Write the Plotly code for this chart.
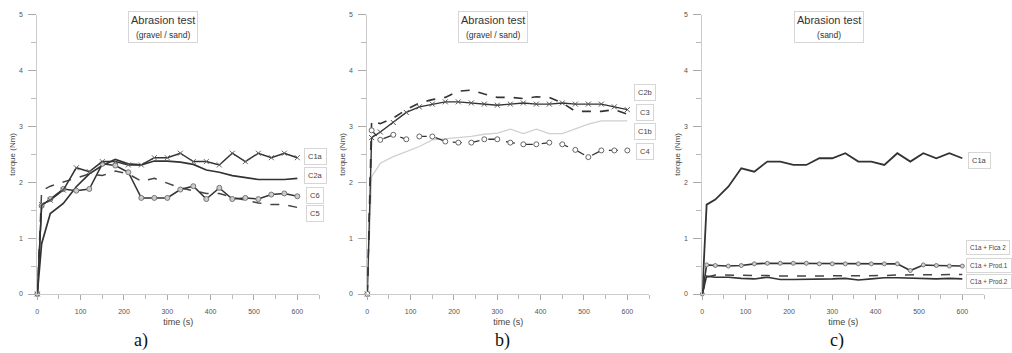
import plotly.graph_objects as go

W, H = 1012, 353

# ---------------- data ----------------
time_s = [0, 10, 30, 60, 90, 120, 150, 180, 210, 240, 270, 300, 330, 360, 390, 420, 450, 480, 510, 540, 570, 600]

# panel a (gravel / sand)
c1a = [0, 1.6, 1.68, 1.86, 2.26, 2.19, 2.37, 2.37, 2.31, 2.31, 2.44, 2.44, 2.52, 2.37, 2.37, 2.31, 2.52, 2.37, 2.52, 2.44, 2.52, 2.44]
c2a = [0, 0.9, 1.44, 1.62, 1.92, 2.15, 2.3, 2.41, 2.33, 2.31, 2.38, 2.38, 2.36, 2.32, 2.22, 2.18, 2.12, 2.09, 2.05, 2.05, 2.05, 2.07]
c6 = [0, 1.58, 1.7, 1.88, 1.85, 1.88, 2.33, 2.3, 2.18, 1.72, 1.72, 1.72, 1.87, 1.93, 1.7, 1.9, 1.7, 1.72, 1.7, 1.78, 1.8, 1.75]
c5 = [0, 1.85, 1.93, 2.0, 2.07, 2.15, 2.12, 2.2, 2.15, 2.02, 2.07, 1.98, 1.9, 1.85, 1.8, 1.8, 1.73, 1.68, 1.63, 1.6, 1.6, 1.55]

# panel b (gravel / sand)
c2b = [0, 3.1, 3.05, 3.15, 3.3, 3.42, 3.48, 3.52, 3.63, 3.65, 3.58, 3.52, 3.52, 3.5, 3.53, 3.52, 3.42, 3.27, 3.27, 3.27, 3.3, 3.22]
c3 = [0, 2.8, 2.9, 3.07, 3.25, 3.35, 3.4, 3.44, 3.44, 3.42, 3.4, 3.38, 3.4, 3.42, 3.4, 3.4, 3.42, 3.4, 3.4, 3.4, 3.35, 3.3]
c1b = [0, 2.1, 2.34, 2.46, 2.55, 2.64, 2.76, 2.78, 2.8, 2.82, 2.86, 2.88, 2.95, 2.87, 2.95, 2.87, 2.87, 2.96, 3.04, 3.1, 3.1, 3.1]
c4 = [0, 2.93, 2.76, 2.85, 2.77, 2.82, 2.82, 2.73, 2.71, 2.71, 2.77, 2.77, 2.71, 2.68, 2.68, 2.71, 2.68, 2.58, 2.45, 2.57, 2.57, 2.57]

# panel c (sand)
c1a_sand = [0, 1.6, 1.69, 1.92, 2.25, 2.19, 2.37, 2.37, 2.31, 2.31, 2.43, 2.43, 2.52, 2.37, 2.37, 2.31, 2.52, 2.37, 2.52, 2.43, 2.52, 2.43]
c1a_prod1 = [0, 0.52, 0.51, 0.5, 0.51, 0.54, 0.55, 0.55, 0.55, 0.55, 0.54, 0.54, 0.54, 0.54, 0.54, 0.54, 0.54, 0.42, 0.52, 0.51, 0.5, 0.5]
c1a_fica = [0, 0.3, 0.34, 0.34, 0.33, 0.33, 0.33, 0.32, 0.32, 0.32, 0.33, 0.33, 0.33, 0.33, 0.33, 0.33, 0.34, 0.34, 0.34, 0.35, 0.35, 0.35]
c1a_prod2 = [0, 0.32, 0.3, 0.3, 0.28, 0.27, 0.3, 0.26, 0.26, 0.26, 0.27, 0.27, 0.28, 0.25, 0.27, 0.29, 0.29, 0.28, 0.28, 0.27, 0.28, 0.27]

titles = ["Abrasion test<br><span style='font-size:8.5px'>(gravel / sand)</span>",
          "Abrasion test<br><span style='font-size:8.5px'>(gravel / sand)</span>",
          "Abrasion test<br><span style='font-size:8.5px'>(sand)</span>"]
captions = ["a)", "b)", "c)"]
labels_a = ["C1a", "C2a", "C6", "C5"]
labels_b = ["C2b", "C3", "C1b", "C4"]
labels_c = ["C1a", "C1a + Fica 2", "C1a + Prod.1", "C1a + Prod.2"]

# ---------------- layout helpers ----------------
FONT = "Liberation Sans, Arial, sans-serif"
DARK = "#333333"
AX = "#cccccc"

def px(x):
    return x / W

def py(y):
    return 1 - y / H

x_domains = [(37.3, 319.0), (367.3, 649.0), (702.3, 984.0)]
y_dom = [py(294.0), py(14.7)]

fig = go.Figure()

def add(series, ax, dash="solid", color=DARK, width=1.6, symbol=None, msize=5, mfill="#bdbdbd", mline="#555"):
    mode = "lines+markers" if symbol else "lines"
    marker = dict(symbol=symbol, size=msize, color=mfill,
                  line=dict(color=mline, width=1)) if symbol else None
    fig.add_trace(go.Scatter(x=time_s, y=series, mode=mode,
                             line=dict(color=color, width=width, dash=dash),
                             marker=marker, xaxis="x" + ax, yaxis="y" + ax,
                             cliponaxis=False, showlegend=False))

# panel a
add(c5, "", dash="dash", width=1.5, color="#444")
add(c2a, "", width=1.7)
add(c6, "", width=1.5, symbol="circle", msize=5, mfill="#cccccc", mline="#777")
add(c1a, "", width=1.5, symbol="x-thin", msize=5, mline="#666")
# panel b
add(c1b, "2", color="#d0d0d0", width=1.3)
add(c2b, "2", dash="dash", width=1.6)
add(c3, "2", width=1.4, symbol="x-thin", msize=5, mline="#555")
add(c4, "2", dash="dash", width=1.3, symbol="circle", msize=5, mfill="#ffffff", mline="#666")
# panel c
add(c1a_sand, "3", width=1.8)
add(c1a_prod1, "3", width=1.6, symbol="circle", msize=4, mfill="#d0d0d0", mline="#777")
add(c1a_fica, "3", dash="dash", width=1.5, color="#444")
add(c1a_prod2, "3", width=1.6)

axis_common_x = dict(range=[0, 650], tickvals=[0, 100, 200, 300, 400, 500, 600],
                     ticks="outside", ticklen=5, tickcolor="#aaaaaa", tickwidth=1,
                     minor=dict(dtick=50, tick0=0, ticks="outside", ticklen=4, tickcolor="#bbbbbb"),
                     showline=True, linecolor=AX, linewidth=1, showgrid=False, zeroline=False,
                     tickfont=dict(size=7, color="#555", family=FONT),
                     ticklabelstandoff=6, automargin=False,
                     title=dict(text="time (s)", font=dict(size=9, color="#444", family=FONT), standoff=4),
                     fixedrange=True)
axis_common_y = dict(range=[0, 5], dtick=1, ticks="outside", ticklen=8, tickcolor="#aaaaaa",
                     minor=dict(dtick=0.5, ticks="outside", ticklen=5, tickcolor="#bbbbbb"),
                     showline=True, linecolor=AX, linewidth=1, showgrid=False, zeroline=False,
                     tickfont=dict(size=7, color="#555", family=FONT),
                     ticklabelstandoff=4, automargin=False,
                     title=dict(text="torque (Nm)", font=dict(size=8, color="#444", family=FONT), standoff=2),
                     domain=y_dom, fixedrange=True)

layout = dict(width=W, height=H, margin=dict(l=0, r=0, t=0, b=0, pad=0, autoexpand=False),
              paper_bgcolor="white", plot_bgcolor="white", showlegend=False,
              font=dict(family=FONT))
for i, (d0, d1) in enumerate(x_domains):
    sfx = "" if i == 0 else str(i + 1)
    xa = dict(axis_common_x)
    xa["domain"] = [px(d0), px(d1)]
    xa["anchor"] = "y" + sfx
    ya = dict(axis_common_y)
    ya["anchor"] = "x" + sfx
    layout["xaxis" + sfx] = xa
    layout["yaxis" + sfx] = ya
fig.update_layout(**layout)

annotations = []
# title boxes
for cx, t in zip([162.5, 492.5, 828.5], titles):
    annotations.append(dict(x=px(cx), y=py(26.5), xref="paper", yref="paper", text=t,
                            showarrow=False, font=dict(size=11, color="#333", family=FONT),
                            bordercolor="#d6d6d6", borderwidth=1, borderpad=2, bgcolor="white",
                            xanchor="center", yanchor="middle", align="center"))
# captions
for cx, c in zip([141, 502, 837], captions):
    annotations.append(dict(x=px(cx), y=py(340), xref="paper", yref="paper", text=c,
                            showarrow=False, font=dict(size=18, color="#111",
                                                       family="Liberation Serif, Times New Roman, serif"),
                            xanchor="center", yanchor="middle"))

def label(cx, cy, text, anchor="center", size=7.5, pad=3):
    annotations.append(dict(x=px(cx), y=py(cy), xref="paper", yref="paper", text=text,
                            showarrow=False, font=dict(size=size, color="#444", family=FONT),
                            bordercolor="#d6d6d6", borderwidth=1, borderpad=pad, bgcolor="white",
                            xanchor=anchor, yanchor="middle"))

for cy, t in zip([156.5, 175, 195, 213.5], labels_a):
    label(315, cy, t)
for cy, t in zip([92.5, 112, 131.5, 151], labels_b):
    label(645, cy, t)
label(979, 160, labels_c[0])
for cy, t in zip([247, 265, 281], labels_c[1:]):
    label(966, cy, t, anchor="left", size=6.3, pad=3)

fig.update_layout(annotations=annotations)
fig.write_html("out.html", config={"displayModeBar": False, "staticPlot": True},
               post_script="document.body.style.margin='0';document.body.style.overflow='hidden';")
